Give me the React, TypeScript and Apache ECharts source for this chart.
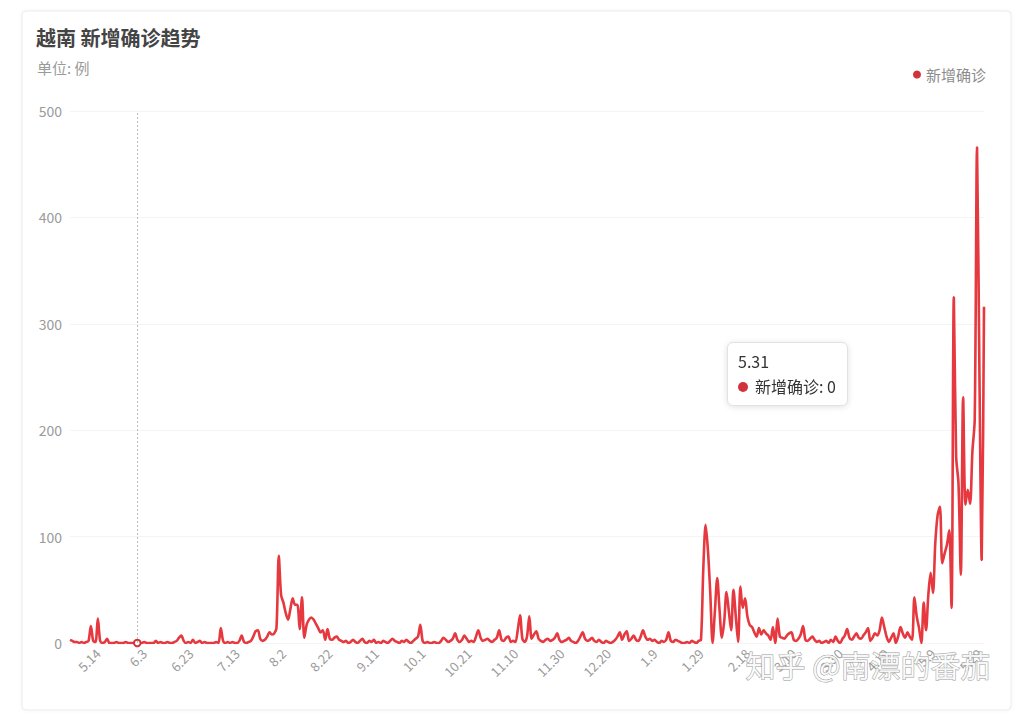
import React, { useEffect, useRef } from "react";
import * as echarts from "echarts";

const START_DATE = [2020, 5, 2];
const TITLE = "越南 新增确诊趋势";
const SUBTITLE = "单位: 例";
const SERIES_NAME = "新增确诊";
const WATERMARK = "知乎 @南漂的番茄";
const Y_TICKS = [0, 100, 200, 300, 400, 500];

// daily new cases, 2020-05-02 .. 2021-05-31
const may2020toJun = [3,2,1,1,0,1,0,1,2,16,2,1,23,2,0,1,4,0,0,0,1,0,0,0,1,0,0,0,0,0,0,0,1,0,0,0,0,2,0,1,0,0,1,0,0,1,2,5,7,2,0,1,0,3,0,1,2,0,1,0];
const julToAug = [0,0,0,1,0,14,2,0,1,0,1,0,0,2,7,1,0,1,2,6,11,12,4,2,3,6,10,8,9,14,82,45,38,28,22,32,42,36,36,13,43,5,17,22,24,22,18,14,10,12,3,13,4,3,5,6,3,2,1,2];
const augToOct = [0,1,3,1,0,2,4,1,0,2,1,3,0,1,0,2,1,0,2,4,2,1,0,2,1,3,1,0,2,4,6,17,2,0,1,0,0,1,0,0,2,5,3,1,2,4,9,3,1,3,7,4,1,2,1,6,12,5,2,3];
const octToDec = [4,2,1,3,5,12,3,2,5,6,1,2,1,12,26,4,1,6,25,4,8,11,4,2,1,3,4,2,3,5,9,3,1,2,3,5,2,1,0,2,6,10,4,2,3,5,2,1,3,1,0,2,1,0,1,3,6,10,3,8];
const decToFeb = [11,2,4,7,3,2,6,12,6,3,4,2,3,1,0,2,1,3,10,2,1,3,2,1,0,0,1,0,2,1,0,2,3,70,111,87,47,0,30,61,31,5,20,48,30,12,50,25,1,53,33,42,25,17,15,10,6,14,8,12];
const febToApr = [9,7,3,15,0,23,6,5,4,7,9,10,3,2,4,8,16,3,2,4,6,3,1,2,0,1,2,0,3,1,6,2,0,4,7,13,5,3,6,9,5,4,7,10,14,2,5,9,7,12,24,15,6,1,5,9,0,6,15,9];
const aprToMay2021 = [5,10,6,3,43,25,14,0,38,12,45,66,47,94,120,128,75,84,92,106,33,325,175,150,64,231,130,144,131,180,210,466,260,78,316];

const values = [...may2020toJun, ...julToAug, ...augToOct, ...octToDec, ...decToFeb, ...febToApr, ...aprToMay2021];

const dates: string[] = values.map((_, i) => {
  const d = new Date(Date.UTC(START_DATE[0], START_DATE[1] - 1, START_DATE[2] + i));
  return `${d.getUTCMonth() + 1}.${d.getUTCDate()}`;
});

const TOOLTIP_INDEX = dates.indexOf("5.31");
const RED = "#d1333a";
const FONT = "'Noto Sans CJK SC', 'Noto Sans', sans-serif";

export default function App() {
  const ref = useRef<HTMLDivElement>(null);
  useEffect(() => {
    if (!ref.current) return;
    const chart = echarts.init(ref.current, null, { renderer: "svg" });
    chart.setOption({
      animation: false,
      textStyle: { fontFamily: FONT },
      graphic: [
        {
          type: "rect",
          z: -10,
          silent: true,
          shape: { x: 22, y: 11, width: 989, height: 699, r: 4 },
          style: { fill: "#fff", stroke: "#ebebeb", lineWidth: 1, shadowBlur: 4, shadowColor: "rgba(0,0,0,0.04)" },
        },
        {
          type: "text",
          left: 36,
          top: 27,
          style: { text: TITLE, fill: "#444", font: `bold 20px ${FONT}` },
        },
        {
          type: "text",
          left: 37,
          top: 60,
          style: { text: SUBTITLE, fill: "#9a9a9a", font: `15px ${FONT}` },
        },
        {
          type: "text",
          left: 745,
          top: 648,
          z: 100,
          style: {
            text: WATERMARK,
            fill: "rgba(255,255,255,0.85)",
            stroke: "#a0a0a0",
            lineWidth: 1,
            font: `30px ${FONT}`,
          },
        },
      ],
      legend: {
        right: 31,
        top: 62,
        icon: "circle",
        itemWidth: 8,
        itemHeight: 8,
        itemGap: 7,
        textStyle: { color: "#8c8c8c", fontSize: 15, fontFamily: FONT },
        data: [SERIES_NAME],
      },
      grid: { left: 70, right: 38, top: 111, bottom: 70, containLabel: false },
      tooltip: {
        trigger: "axis",
        triggerOn: "none",
        alwaysShowContent: true,
        position: [727, 342],
        backgroundColor: "#fff",
        borderColor: "#e2e2e2",
        borderWidth: 1,
        padding: [6, 11, 6, 10],
        extraCssText: "border-radius:6px;box-shadow:0 1px 6px rgba(0,0,0,0.12);",
        axisPointer: {
          type: "line",
          lineStyle: { color: "#bdbdbd", type: [2, 2], width: 1 },
          label: { show: false },
        },
        formatter: (params: any) => {
          const p = params[0];
          return `<div style="font-family:${FONT.replace(/'/g, "")};font-size:16px;color:#333;line-height:25px">${p.name}<br/><span style="display:inline-block;width:10px;height:10px;border-radius:50%;background:${RED};margin-right:7px;vertical-align:1px"></span>${SERIES_NAME}: ${p.value}</div>`;
        },
      },
      xAxis: {
        type: "category",
        boundaryGap: false,
        data: dates,
        axisLine: { show: false },
        axisTick: { show: false },
        axisLabel: {
          interval: (index: number) => index % 20 === 12,
          rotate: 45,
          color: "#9a9a9a",
          fontSize: 13,
          fontFamily: FONT,
          margin: 8,
        },
      },
      yAxis: {
        type: "value",
        min: 0,
        max: 500,
        interval: 100,
        axisLine: { show: false },
        axisTick: { show: false },
        axisLabel: {
          color: "#9a9a9a",
          fontSize: 14,
          fontFamily: FONT,
          margin: 8,
          formatter: (v: number) => (Y_TICKS.includes(v) ? String(v) : ""),
        },
        splitLine: { lineStyle: { color: "#f4f4f4", width: 1 } },
      },
      series: [
        {
          name: SERIES_NAME,
          type: "line",
          data: values,
          smooth: 0.3,
          showSymbol: false,
          symbol: "emptyCircle",
          symbolSize: 6,
          lineStyle: { color: RED, width: 2.6 },
          itemStyle: { color: RED },
        },
      ],
    });
    chart.dispatchAction({ type: "showTip", seriesIndex: 0, dataIndex: TOOLTIP_INDEX });
    return () => chart.dispose();
  }, []);
  return (
    <div
      ref={ref}
      style={{ position: "absolute", left: 0, top: 0, width: 1022, height: 713, background: "#fff" }}
    />
  );
}
